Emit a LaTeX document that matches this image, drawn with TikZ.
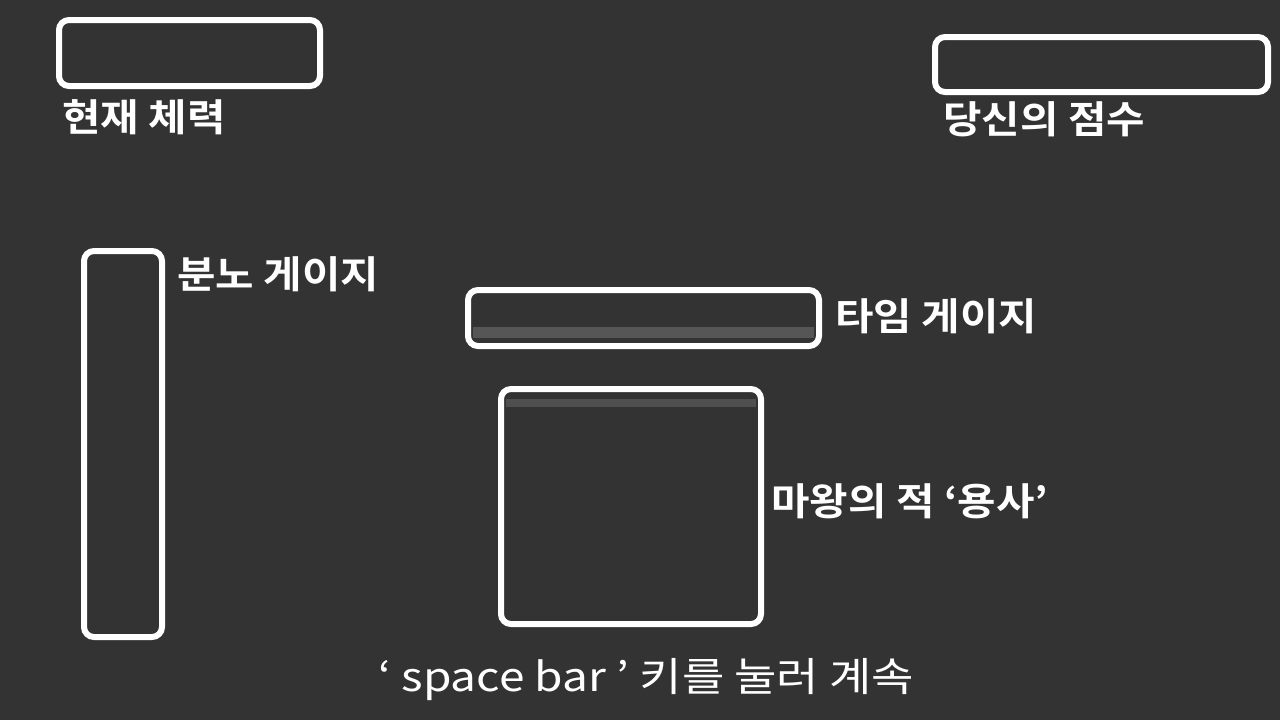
\documentclass[tikz,border=0pt]{standalone}
\usepackage{fontspec}
\newfontfamily\kr[FakeStretch=1.15]{Noto Sans CJK KR}
\newfontfamily\krb[FakeStretch=1.1]{Noto Sans CJK KR Bold}
\definecolor{bgc}{HTML}{333333}
\definecolor{bandc}{HTML}{565656}
\begin{document}
\begin{tikzpicture}[x=0.5pt,y=-0.5pt,
  frame/.style={draw=white,line width=3pt,rounded corners=5pt},
  lbl/.style={text=white,anchor=west,inner sep=0pt,font=\krb\fontsize{19pt}{22pt}\selectfont},
  keytxt/.style={text=white,anchor=west,inner sep=0pt,font=\kr\fontsize{20pt}{23pt}\selectfont}]
\fill[bgc] (0,0) rectangle (1280,720);
\useasboundingbox (0,0) rectangle (1280,720);
% bands
\fill[bandc] (473,327) rectangle (814,338);
\fill[bandc!80!bgc] (506,399) rectangle (756,407);
% frames
\draw[frame] (59,20) rectangle (320,86);
\draw[frame] (935,37) rectangle (1268,92);
\draw[frame] (84,251) rectangle (162,637);
\draw[frame] (468,290) rectangle (819,346);
\draw[frame] (501,389) rectangle (761,624);
% labels
\node[lbl] (hp) at (62,117) {현재 체력};
\node[lbl] (score) at (943,119) {당신의 점수};
\node[lbl] (rage) at (177,274) {분노 게이지};
\node[lbl] (time) at (835,316) {타임 게이지};
\node[lbl] (hero) at (771,501) {마왕의 적 ‘용사’};
\node[keytxt] (key) at (378,680) {‘ space bar ’ 키를 눌러 계속};
\end{tikzpicture}
\end{document}
